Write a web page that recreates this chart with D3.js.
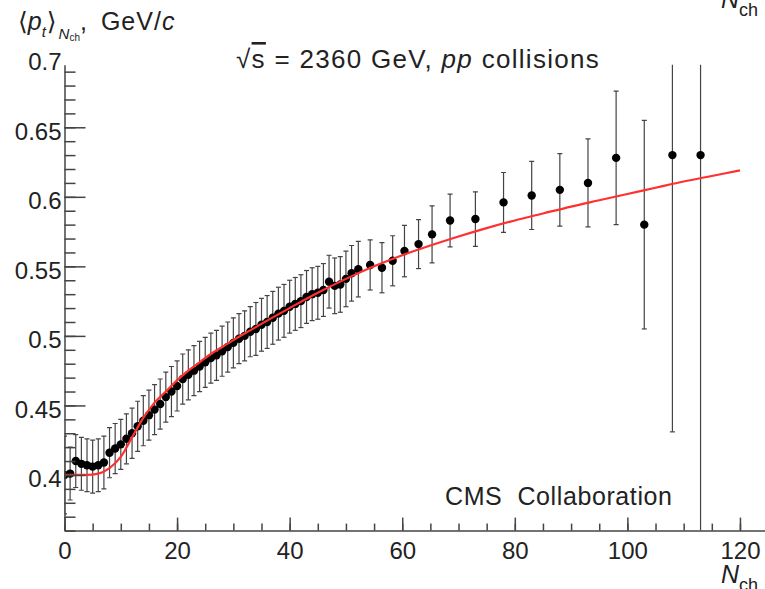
<!DOCTYPE html>
<html>
<head>
<meta charset="utf-8">
<script src="https://cdn.jsdelivr.net/npm/d3@7"></script>
<style>
  body { margin: 0; background: #fff; }
  svg text { font-family: "Liberation Sans", Arial, "DejaVu Sans", sans-serif; fill: #222; }
</style>
</head>
<body>
<div id="chart"></div>
<script>
// mean pt vs Nch
const nch = [0,1,2,3,4,5,6,7,8,9,10,11,12,13,14,15,16,17,18,19,20,21,22,23,24,25,
  26,27,28,29,30,31,32,33,34,35,36,37,38,39,40,41,42,43,44,45,46,47,48,49,50,51,
  52.2,54.3,56.4,58.3,60.4,62.9,65.3,68.5,73,78,83,88,93,98,103,108,113];
const meanPt = [0.400,0.401,0.410,0.408,0.407,0.406,0.407,0.409,0.416,0.419,0.422,0.426,0.430,
  0.435,0.439,0.443,0.447,0.451,0.456,0.460,0.464,0.469,0.472,0.475,0.478,0.481,0.484,0.486,
  0.489,0.492,0.495,0.498,0.500,0.503,0.505,0.508,0.510,0.513,0.516,0.518,0.521,0.523,0.525,
  0.528,0.530,0.531,0.533,0.539,0.536,0.537,0.541,0.545,
  0.548,0.551,0.549,0.554,0.561,0.566,0.573,0.583,0.584,0.596,0.601,0.605,0.610,0.628,0.580,0.630,0.630];
const ptErr = [0.028,0.019,0.019,0.019,0.019,0.019,0.019,0.019,0.018,0.018,0.018,0.018,0.018,
  0.018,0.018,0.018,0.018,0.018,0.018,0.018,0.018,0.018,0.018,0.018,0.018,0.018,0.018,0.018,
  0.018,0.018,0.018,0.018,0.018,0.018,0.019,0.019,0.019,0.019,0.019,0.019,0.019,0.019,0.019,
  0.019,0.019,0.019,0.019,0.019,0.020,0.020,0.020,0.020,
  0.020,0.018,0.018,0.018,0.0185,0.0176,0.0205,0.019,0.0196,0.0215,0.0245,0.026,0.0316,0.048,0.075,0.199,0.30];

// fit curve
const fitN  = [0,2,4,6,8,10,12,14,16,18,20,22,24,26,28,30,33,36,40,45,50,55,60,65,70,75,80,85,90,95,100,105,110,115,120];
const fitPt = [0.400,0.400,0.400,0.401,0.405,0.413,0.427,0.441,0.452,0.460,0.468,0.475,0.481,0.487,
  0.492,0.497,0.504,0.511,0.520,0.531,0.541,0.550,0.558,0.565,0.5715,0.5775,0.583,0.588,0.593,
  0.5975,0.602,0.6065,0.611,0.615,0.619];

const xTicks = [0,20,40,60,80,100,120];
const xMinor = d3.range(0, 126, 5);
const yTicks = [0.4,0.45,0.5,0.55,0.6,0.65,0.7];
const yMinor = d3.range(0.36, 0.695, 0.01);

const width = 765, height = 589;
const svg = d3.select("#chart").append("svg")
  .attr("width", width).attr("height", height);

const x = d3.scaleLinear().domain([0, 125]).range([64.5, 768.1]);
const y = d3.scaleLinear().domain([0.36, 0.695]).range([530.6, 64.7]);

svg.append("clipPath").attr("id", "plot")
  .append("rect").attr("x", 64.5).attr("y", 64.7)
  .attr("width", width - 64.5).attr("height", 530.6 - 64.7);

const pts = nch.map((n, i) => ({n, v: meanPt[i], e: ptErr[i]}));
const plot = svg.append("g").attr("clip-path", "url(#plot)");

// error bars
const eb = plot.append("g").attr("stroke", "#444").attr("stroke-width", 1.2);
eb.selectAll("line.bar").data(pts).join("line").attr("class", "bar")
  .attr("x1", d => x(d.n)).attr("x2", d => x(d.n))
  .attr("y1", d => y(d.v - d.e)).attr("y2", d => y(d.v + d.e));
eb.selectAll("line.capu").data(pts).join("line").attr("class", "capu")
  .attr("x1", d => x(d.n) - 2.5).attr("x2", d => x(d.n) + 2.5)
  .attr("y1", d => y(d.v + d.e)).attr("y2", d => y(d.v + d.e));
eb.selectAll("line.capd").data(pts).join("line").attr("class", "capd")
  .attr("x1", d => x(d.n) - 2.5).attr("x2", d => x(d.n) + 2.5)
  .attr("y1", d => y(d.v - d.e)).attr("y2", d => y(d.v - d.e));

// markers
plot.append("g").selectAll("circle").data(pts).join("circle")
  .attr("cx", d => x(d.n)).attr("cy", d => y(d.v)).attr("r", 4.2)
  .attr("fill", "#000");

// fit
const line = d3.line().x((d, i) => x(fitN[i])).y(d => y(d)).curve(d3.curveMonotoneX);
plot.append("path").datum(fitPt)
  .attr("d", line).attr("fill", "none")
  .attr("stroke", "#ff3030").attr("stroke-width", 2.2);

// axes
const axisColor = "#444";
function styleAxis(g) {
  g.selectAll("path, line").attr("stroke", axisColor).attr("stroke-width", 1.5);
  g.selectAll("text").attr("fill", "#222").style("font-size", "24px")
    .style("font-family", "Liberation Sans, Arial, sans-serif");
}

svg.append("g").attr("transform", `translate(0,${y(0.36)})`)
  .call(d3.axisBottom(x).tickValues(xMinor).tickSize(-7).tickSizeOuter(0).tickFormat(""))
  .call(styleAxis);
svg.append("g").attr("transform", `translate(0,${y(0.36)})`)
  .call(d3.axisBottom(x).tickValues(xTicks).tickSize(-13).tickSizeOuter(0).tickPadding(11))
  .call(styleAxis)
  .call(g => g.select(".domain").remove());

svg.append("g").attr("transform", `translate(${x(0)},0)`)
  .call(d3.axisLeft(y).tickValues(yMinor).tickSize(-11).tickSizeOuter(0).tickFormat(""))
  .call(styleAxis);
svg.append("g").attr("transform", `translate(${x(0)},0)`)
  .call(d3.axisLeft(y).tickValues(yTicks).tickSize(-21).tickSizeOuter(0).tickPadding(3)
    .tickFormat(d3.format("~g")))
  .call(styleAxis)
  .call(g => g.select(".domain").remove())
  .call(g => g.selectAll(".tick").filter(d => d > 0.695).select("line").remove())
  .call(g => g.selectAll("text").attr("dy", "0.5em"));

// y title
const yt = svg.append("text").attr("x", 18).attr("y", 30).style("font-size", "25px");
yt.append("tspan").text("\u27E8");
yt.append("tspan").style("font-style", "italic").text("p");
yt.append("tspan").style("font-style", "italic").style("font-size", "15px").attr("dy", 7).text("t");
yt.append("tspan").attr("dy", -7).attr("dx", 1).text("\u27E9");
yt.append("tspan").style("font-style", "italic").style("font-size", "15px").attr("dy", 9).attr("dx", 2).text("N");
yt.append("tspan").style("font-size", "10px").attr("dy", 2).text("ch");
yt.append("tspan").attr("dy", -11).text(",");
yt.append("tspan").attr("dx", 6).style("letter-spacing", "1px").text(" GeV/");
yt.append("tspan").style("font-style", "italic").text("c");

// x title (bottom right) and cropped one at top right
function nchLabel(xp, yp) {
  const t = svg.append("text").attr("x", xp).attr("y", yp).style("font-size", "25px");
  t.append("tspan").style("font-style", "italic").text("N");
  t.append("tspan").style("font-size", "18px").attr("dy", 8).text("ch");
}
nchLabel(721, 583);
nchLabel(721, 8);

// title
const tt = svg.append("text").attr("x", 236).attr("y", 68)
  .style("font-size", "26px").style("letter-spacing", "1.3px");
tt.append("tspan").text("\u221A");
tt.append("tspan").style("text-decoration", "overline").text("s");
tt.append("tspan").text(" = 2360 GeV, ");
tt.append("tspan").style("font-style", "italic").text("pp");
tt.append("tspan").text(" collisions");

svg.append("text").attr("x", 445).attr("y", 505).style("font-size", "25px")
  .style("letter-spacing", "0.6px")
  .attr("xml:space", "preserve").style("white-space", "pre")
  .text("CMS  Collaboration");
</script>
</body>
</html>
